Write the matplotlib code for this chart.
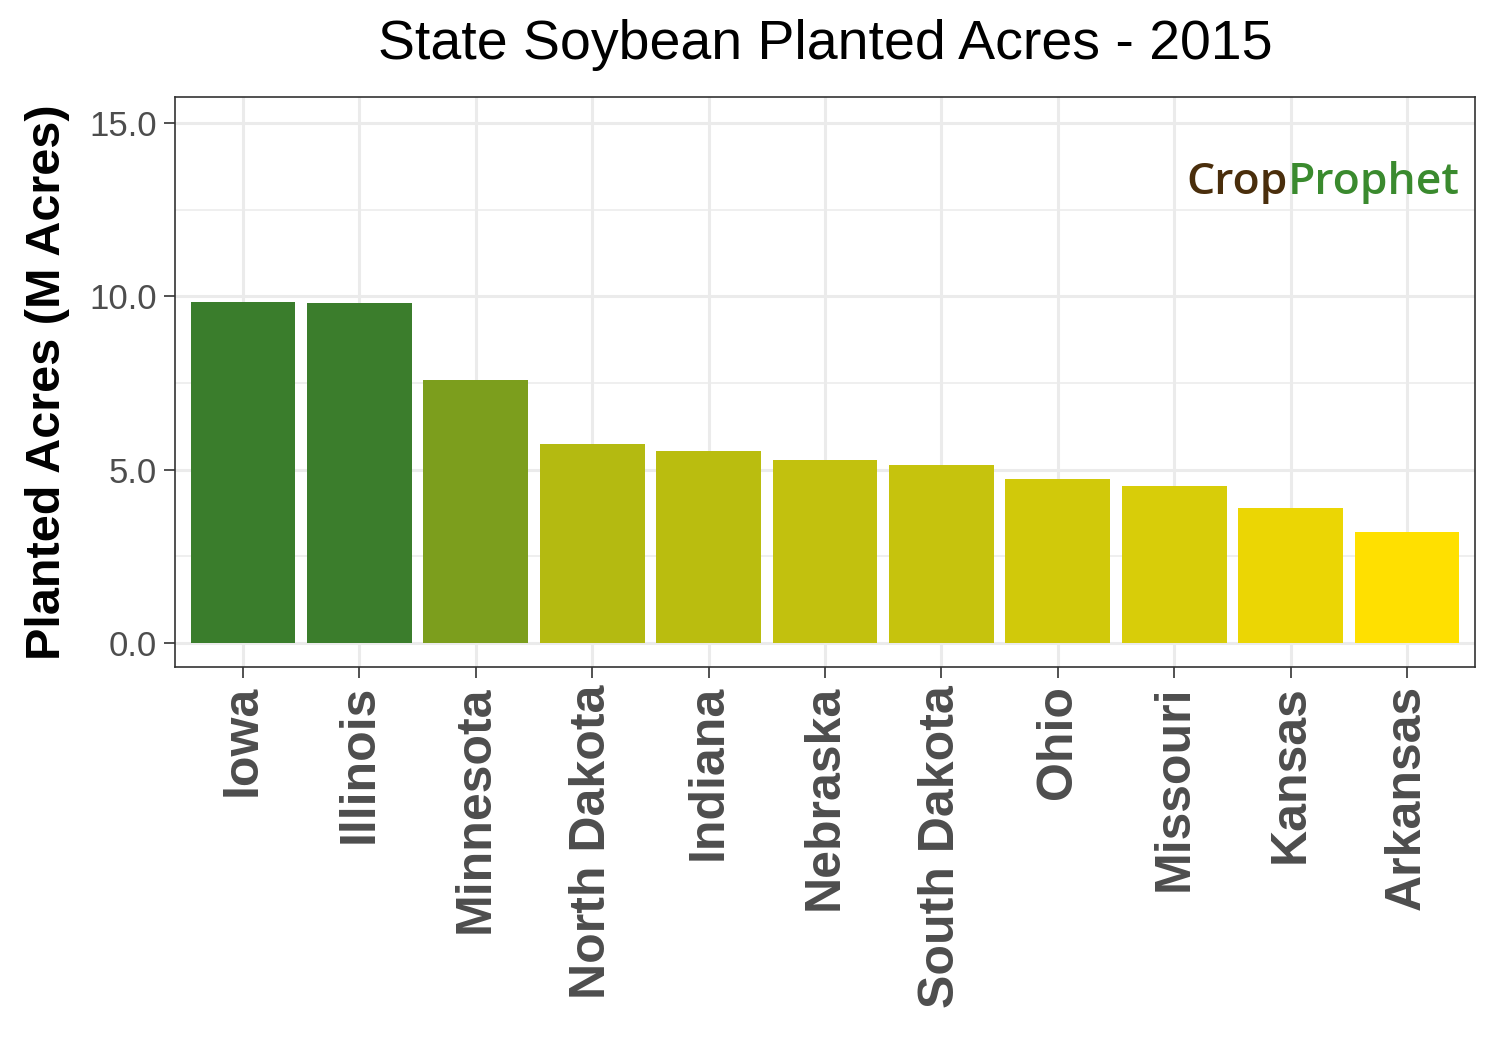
import matplotlib
matplotlib.use("Agg")
import matplotlib.pyplot as plt
from matplotlib.colors import LinearSegmentedColormap, Normalize

states = ["Iowa","Illinois","Minnesota","North Dakota","Indiana","Nebraska",
          "South Dakota","Ohio","Missouri","Kansas","Arkansas"]
acres = [9.83, 9.80, 7.58, 5.73, 5.53, 5.27, 5.13, 4.73, 4.52, 3.89, 3.20]
yticks = [0.0, 5.0, 10.0, 15.0]

plt.rcParams["font.family"] = "Liberation Sans"
fig = plt.figure(figsize=(15, 10.5), dpi=100)
ax = fig.add_axes([175/1500, 1-667/1050, 1300/1500, 570/1050])
cmap = LinearSegmentedColormap.from_list("g", ["#FFE000", "#3A7D2C"])
norm = Normalize(min(acres), max(acres))
x = range(len(states))
ax.bar(x, acres, width=0.9, color=[cmap(norm(v)) for v in acres], zorder=3)
ax.set_xlim(-0.585, len(states)-1+0.585)
ax.set_ylim(-0.69, 15.75)
ax.set_yticks(yticks)
ax.set_yticklabels([f"{t:.1f}" for t in yticks], fontsize=25, color="#4D4D4D")
ax.set_yticks([2.5, 7.5, 12.5], minor=True)
ax.set_xticks(list(x))
ax.set_xticklabels(states, rotation=90, fontsize=36, fontweight="bold", color="#4D4D4D")
ax.grid(True, which="major", color="#EBEBEB", lw=2.2, zorder=0)
ax.grid(True, which="minor", axis="y", color="#EBEBEB", lw=1.1, zorder=0)
ax.tick_params(which="major", length=8, width=1.2, color="#333333", pad=5)
ax.tick_params(which="minor", length=0)
for s in ax.spines.values():
    s.set_color("#333333"); s.set_linewidth(1.2)
ax.set_ylabel("Planted Acres (M Acres)", fontsize=35, fontweight="bold", labelpad=14)
fig.suptitle("State Soybean Planted Acres - 2015", fontsize=40, y=1-45/1050, x=825/1500, va="center")
t1 = ax.text(0.778, 0.85, "Crop", transform=ax.transAxes, fontsize=32, color="#4A2E0C",
        fontfamily="Open Sans", fontweight="semibold", ha="left", va="center")
fig.canvas.draw()
bb = t1.get_window_extent()
xr = ax.transAxes.inverted().transform((bb.x1, bb.y0))[0]
ax.text(xr, 0.85, "Prophet", transform=ax.transAxes, fontsize=32, color="#3A8A2E",
        fontfamily="Open Sans", fontweight="semibold", ha="left", va="center")
fig.savefig("out.png", dpi=100)
